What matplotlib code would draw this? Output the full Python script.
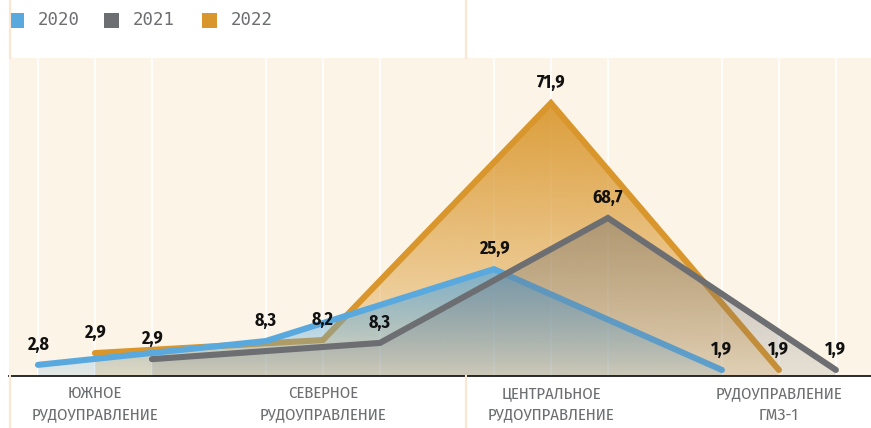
import numpy as np
import matplotlib
matplotlib.use("Agg")
import matplotlib.pyplot as plt
from matplotlib.patches import Polygon, Rectangle
from matplotlib.colors import to_rgb
from matplotlib import font_manager
from matplotlib.ft2font import FT2Font

categories = ["ЮЖНОЕ\nРУДОУПРАВЛЕНИЕ", "СЕВЕРНОЕ\nРУДОУПРАВЛЕНИЕ",
              "ЦЕНТРАЛЬНОЕ\nРУДОУПРАВЛЕНИЕ", "РУДОУПРАВЛЕНИЕ\nГМЗ-1"]
years = ["2020", "2021", "2022"]

# plotted heights (the chart does not draw them to scale)
heights_2020 = [3.5, 11.0, 33.6, 1.9]
heights_2021 = [5.3, 10.4, 49.7, 1.9]
heights_2022 = [7.2, 11.3, 85.8, 1.9]

labels_2020 = ["2,8", "8,3", "25,9", "1,9"]
labels_2021 = ["2,9", "8,3", "68,7", "1,9"]
labels_2022 = ["2,9", "8,2", "71,9", "1,9"]

colors = {"2020": "#5aa9de", "2021": "#6d6e72", "2022": "#d9962c"}
offsets = {"2020": -0.25, "2022": 0.0, "2021": 0.25}
fill_alpha = {"2020": (0.75, 0.15), "2021": (0.45, 0.15), "2022": (0.92, 0.2)}


def has_cyrillic(fname):
    try:
        cmap = FT2Font(fname).get_charmap()
    except Exception:
        return False
    return all(ord(c) in cmap for c in "РУДЖЮГМЗ0123456789,")


def find_narrow(target_weight):
    # condensed / narrow upright face covering Cyrillic, closest to the weight
    hits = []
    for f in font_manager.fontManager.ttflist:
        key = (f.name + " " + f.fname).lower()
        if not ("condensed" in key or "narrow" in key
                or f.stretch in ("condensed", "semi-condensed")):
            continue
        if "italic" in key or "oblique" in key or f.style != "normal":
            continue
        if has_cyrillic(f.fname):
            w = f.weight if isinstance(f.weight, int) else 400
            hits.append((abs(w - target_weight), "dejavu" in key, f.fname))
    if hits:
        hits.sort()
        return hits[0][2]
    return None


lab_file = find_narrow(700)
cat_file = find_narrow(400)
if lab_file:
    lab_fp = font_manager.FontProperties(fname=lab_file, size=13)
else:
    lab_fp = font_manager.FontProperties(family="DejaVu Sans", weight="bold", size=11)
if cat_file:
    cat_fp = font_manager.FontProperties(fname=cat_file, size=12)
else:
    cat_fp = font_manager.FontProperties(family="DejaVu Sans", size=9.5)

fig = plt.figure(figsize=(8.71, 4.28), dpi=100)
fig.patch.set_facecolor("white")
ax = fig.add_axes([9 / 871, 52 / 428, 862 / 871, 318 / 428])
ax.set_facecolor("#fcf4e6")
for s in ax.spines.values():
    s.set_visible(False)
ax.set_xticks([])
ax.set_yticks([])

x = np.arange(len(categories))
for i in x:
    for off in (-0.25, 0.0, 0.25):
        ax.axvline(i + off, color="white", lw=1.3, zorder=1)

series = [("2022", heights_2022, labels_2022),
          ("2020", heights_2020, labels_2020),
          ("2021", heights_2021, labels_2021)]

z = 2
for year, h, labs in series:
    xs = x + offsets[year]
    col = to_rgb(colors[year])
    top = max(h)
    a_top, a_bot = fill_alpha[year]
    grad = np.zeros((100, 1, 4))
    grad[:, :, :3] = col
    grad[:, 0, 3] = np.linspace(a_top, a_bot, 100)
    im = ax.imshow(grad, aspect="auto", extent=[xs[0], xs[-1], 0, top],
                   origin="upper", zorder=z)
    poly = Polygon(list(zip(xs, h)) + [(xs[-1], 0), (xs[0], 0)],
                   closed=True, transform=ax.transData, facecolor="none",
                   edgecolor="none")
    ax.add_patch(poly)
    im.set_clip_path(poly)
    ax.plot(xs, h, color=colors[year], lw=4.4, solid_capstyle="round",
            solid_joinstyle="miter", zorder=z + 1)
    for xi, hi, lab in zip(xs, h, labs):
        ax.annotate(lab, (xi, hi), xytext=(0, 8), textcoords="offset points",
                    ha="center", va="bottom", fontproperties=lab_fp,
                    color="#111111", zorder=10)
    z += 2

ax.set_xlim(-0.377, 3.404)
ax.set_ylim(0, 100)

# baseline
fig.add_artist(plt.Line2D([9 / 871, 1], [52 / 428, 52 / 428], color="#1a1a1a",
                          lw=1.3, transform=fig.transFigure))

# faint frame lines
peach = "#fbe6cf"
for xf in (10 / 871, 466 / 871):
    fig.add_artist(plt.Line2D([xf, xf], [370 / 428, 1], color=peach,
                              lw=1.5, transform=fig.transFigure))
    fig.add_artist(plt.Line2D([xf, xf], [0, 52 / 428], color=peach,
                              lw=1.5, transform=fig.transFigure))

# category labels
for i, cat in enumerate(categories):
    xf = (95 + 228 * i) / 871
    fig.text(xf, 1 - 404 / 428, cat, ha="center", va="center",
             fontproperties=cat_fp, color="#6d6e71", linespacing=1.45)

# legend
leg_x = [9, 104, 202]
for lx, year in zip(leg_x, years):
    fig.add_artist(Rectangle((lx / 871, 1 - 28 / 428), 15 / 871, 15 / 428,
                             facecolor=colors[year], edgecolor="none",
                             transform=fig.transFigure))
    fig.text((lx + 29) / 871, 1 - 20 / 428, year, ha="left", va="center",
             fontsize=12.5, family="DejaVu Sans Mono", color="#6d6e71")

fig.savefig("out.png", dpi=100)
